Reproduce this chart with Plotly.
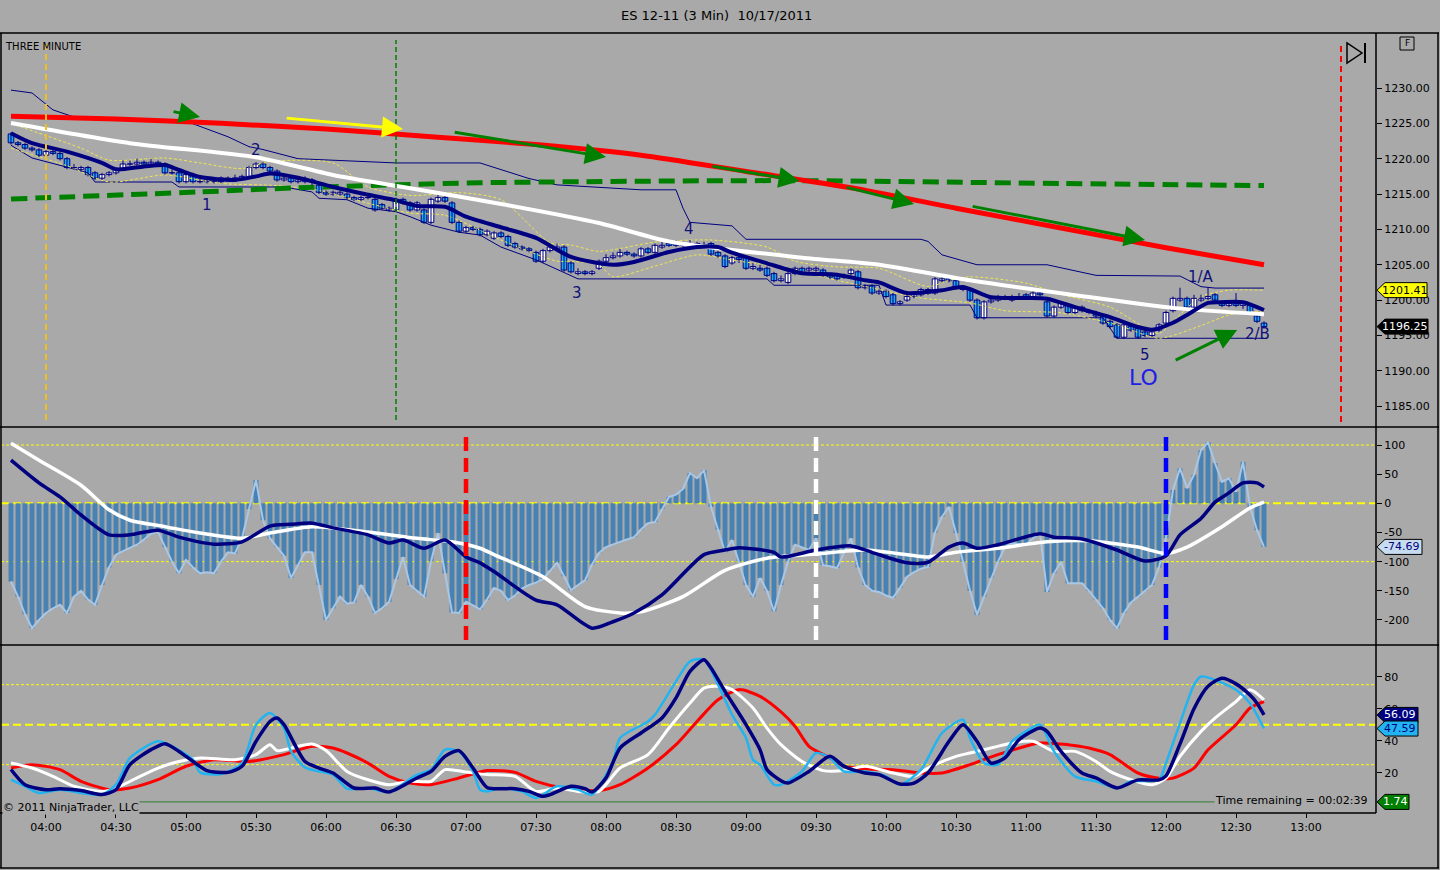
import pandas as pd
import plotly.graph_objects as go
from plotly.subplots import make_subplots

TITLE = "ES 12-11 (3 Min)\u00a0\u00a010/17/2011"
BG = "#A9A9A9"
NAVY = "#000080"
CYAN = "#1EA8F0"
FONT = "DejaVu Sans"

# 3 minute bars, 03:45 .. 12:42
bar_start = "2011-10-17 03:45"
n_bars = 180

opens = [1223.50, 1222.25, 1222.00, 1221.50, 1221.25, 1220.50, 1221.00, 1220.75, 1220.00, 1218.75,
         1218.50, 1218.75, 1218.00, 1217.25, 1217.75, 1218.00, 1218.50, 1219.25, 1219.25, 1219.50,
         1219.25, 1219.50, 1219.25, 1218.00, 1218.00, 1216.75, 1217.75, 1216.75, 1216.75, 1217.00,
         1217.25, 1217.00, 1217.25, 1217.25, 1217.50, 1218.75, 1219.25, 1218.75, 1218.25, 1217.00,
         1217.25, 1216.75, 1216.75, 1217.00, 1216.25, 1215.25, 1215.00, 1215.00, 1215.00, 1214.50,
         1214.25, 1214.50, 1214.25, 1213.50, 1212.75, 1212.75, 1214.25, 1213.75, 1212.75, 1212.75,
         1211.00, 1214.00, 1214.50, 1213.75, 1211.00, 1209.75, 1210.25, 1210.00, 1209.25, 1208.75,
         1209.50, 1209.00, 1208.00, 1207.50, 1207.25, 1206.75, 1205.50, 1207.00, 1207.25, 1207.50,
         1205.25, 1203.75, 1204.00, 1203.75, 1204.50, 1205.50, 1206.00, 1206.25, 1206.75, 1206.50,
         1206.25, 1207.25, 1206.75, 1207.50, 1208.00, 1208.25, 1208.00, 1207.75, 1208.00, 1207.75,
         1208.00, 1206.75, 1206.25, 1205.25, 1206.00, 1206.00, 1204.50, 1204.50, 1204.50, 1203.75,
         1202.75, 1202.50, 1203.75, 1204.50, 1204.25, 1204.25, 1204.25, 1203.50, 1203.50, 1203.25,
         1203.75, 1204.00, 1201.75, 1202.00, 1201.00, 1201.25, 1200.75, 1199.50, 1200.00, 1200.50,
         1200.75, 1201.50, 1201.00, 1202.75, 1203.00, 1202.75, 1201.75, 1201.50, 1200.00, 1197.50,
         1199.75, 1200.00, 1200.25, 1200.00, 1200.50, 1200.75, 1200.50, 1201.00, 1199.75, 1197.75,
         1199.00, 1199.25, 1198.25, 1199.00, 1198.50, 1198.00, 1197.75, 1197.00, 1196.50, 1194.75,
         1196.25, 1196.00, 1195.50, 1195.00, 1195.75, 1196.75, 1198.50, 1200.00, 1200.25, 1199.00,
         1200.00, 1200.25, 1200.75, 1199.75, 1199.25, 1199.50, 1199.25, 1199.25, 1197.75, 1196.75]

highs = [1223.75, 1222.50, 1222.25, 1221.75, 1221.50, 1221.25, 1221.25, 1221.00, 1220.25, 1219.25,
         1219.00, 1219.00, 1218.25, 1218.00, 1218.25, 1218.75, 1219.75, 1219.75, 1220.00, 1219.75,
         1220.00, 1219.75, 1219.50, 1218.50, 1218.25, 1218.00, 1218.00, 1217.25, 1217.50, 1217.25,
         1217.50, 1217.50, 1217.75, 1217.75, 1219.00, 1219.50, 1219.50, 1219.00, 1218.50, 1217.75,
         1217.50, 1217.25, 1217.50, 1217.25, 1216.50, 1215.50, 1215.50, 1215.50, 1215.25, 1214.75,
         1214.75, 1214.75, 1214.50, 1213.75, 1213.25, 1214.50, 1214.50, 1214.00, 1214.00, 1213.00,
         1214.50, 1215.00, 1214.75, 1214.00, 1211.25, 1210.50, 1210.50, 1210.25, 1210.00, 1209.75,
         1209.75, 1209.25, 1208.25, 1207.75, 1207.50, 1207.00, 1207.25, 1207.75, 1208.00, 1207.75,
         1205.50, 1204.50, 1204.25, 1204.25, 1205.75, 1206.50, 1206.75, 1207.25, 1207.00, 1206.75,
         1207.50, 1207.50, 1208.00, 1208.25, 1208.25, 1208.50, 1208.25, 1208.50, 1208.25, 1208.25,
         1208.25, 1207.00, 1206.50, 1206.25, 1206.25, 1206.25, 1205.25, 1205.00, 1204.75, 1204.00,
         1203.50, 1204.00, 1204.75, 1204.75, 1204.75, 1204.75, 1204.50, 1203.75, 1203.75, 1203.75,
         1204.50, 1204.25, 1202.25, 1202.25, 1201.50, 1201.50, 1201.00, 1200.00, 1200.75, 1201.00,
         1201.75, 1201.75, 1203.25, 1203.25, 1203.25, 1203.00, 1202.00, 1201.75, 1200.25, 1200.00,
         1200.50, 1200.75, 1200.75, 1200.75, 1201.00, 1201.00, 1201.25, 1201.25, 1200.00, 1199.25,
         1199.75, 1199.50, 1199.25, 1199.25, 1198.75, 1198.50, 1198.00, 1197.25, 1196.75, 1196.75,
         1196.50, 1196.25, 1195.75, 1195.75, 1196.75, 1198.50, 1200.50, 1201.75, 1200.50, 1200.75,
         1200.75, 1201.75, 1201.00, 1200.00, 1199.75, 1201.00, 1199.75, 1199.50, 1198.00, 1197.00]

lows = [1222.00, 1221.75, 1221.25, 1221.00, 1220.25, 1220.25, 1220.50, 1219.75, 1218.50, 1218.50,
        1218.25, 1217.50, 1217.00, 1217.00, 1217.50, 1217.75, 1218.25, 1219.00, 1219.00, 1219.00,
        1219.00, 1219.00, 1217.75, 1217.75, 1216.50, 1216.50, 1216.50, 1216.50, 1216.50, 1216.50,
        1216.50, 1216.75, 1217.00, 1217.00, 1217.25, 1218.50, 1218.50, 1218.00, 1216.75, 1216.75,
        1216.50, 1216.50, 1216.50, 1216.25, 1215.00, 1214.75, 1214.75, 1214.75, 1214.25, 1214.00,
        1214.00, 1214.25, 1212.50, 1212.75, 1212.50, 1212.50, 1213.50, 1212.50, 1212.50, 1210.75,
        1210.75, 1213.75, 1213.75, 1210.75, 1209.50, 1209.50, 1209.75, 1209.00, 1209.00, 1208.50,
        1208.75, 1207.50, 1207.25, 1207.00, 1206.75, 1205.25, 1205.25, 1206.75, 1207.00, 1204.00,
        1203.75, 1203.50, 1203.50, 1203.50, 1204.25, 1205.25, 1205.75, 1206.00, 1206.25, 1206.00,
        1206.00, 1206.50, 1206.50, 1207.25, 1207.50, 1207.50, 1207.50, 1207.50, 1207.50, 1207.50,
        1206.25, 1206.00, 1204.50, 1205.00, 1205.25, 1204.25, 1204.25, 1204.00, 1203.25, 1202.50,
        1202.50, 1202.25, 1203.50, 1203.75, 1204.00, 1204.00, 1203.25, 1203.00, 1202.75, 1203.00,
        1203.50, 1201.50, 1201.50, 1200.75, 1200.75, 1200.25, 1199.25, 1199.25, 1199.75, 1200.25,
        1200.50, 1200.75, 1200.75, 1202.50, 1202.50, 1201.50, 1201.25, 1199.75, 1197.25, 1197.25,
        1199.50, 1199.75, 1200.00, 1199.75, 1200.25, 1200.25, 1200.25, 1200.50, 1197.50, 1197.50,
        1198.75, 1198.00, 1198.00, 1198.25, 1198.00, 1197.50, 1196.50, 1196.00, 1194.50, 1194.50,
        1195.50, 1194.50, 1194.75, 1194.75, 1195.50, 1196.50, 1198.25, 1199.75, 1198.75, 1198.75,
        1199.75, 1200.00, 1199.75, 1199.00, 1199.00, 1199.00, 1198.75, 1198.00, 1196.75, 1196.00]

closes = [1222.25, 1222.00, 1221.50, 1221.25, 1220.50, 1221.00, 1220.75, 1220.00, 1218.75, 1218.75,
          1218.75, 1217.75, 1217.25, 1217.75, 1218.00, 1218.50, 1219.25, 1219.25, 1219.50, 1219.25,
          1219.50, 1219.25, 1218.00, 1218.00, 1216.75, 1217.75, 1216.75, 1216.75, 1217.00, 1216.75,
          1216.75, 1217.25, 1217.25, 1217.50, 1218.75, 1219.25, 1218.75, 1218.25, 1217.00, 1217.25,
          1216.75, 1217.00, 1217.00, 1216.75, 1215.25, 1215.00, 1215.25, 1215.25, 1214.50, 1214.25,
          1214.50, 1214.50, 1212.75, 1213.00, 1213.00, 1214.25, 1213.75, 1212.75, 1213.75, 1211.00,
          1214.25, 1214.50, 1214.00, 1211.00, 1209.75, 1210.25, 1210.00, 1209.25, 1209.75, 1209.50,
          1209.00, 1207.75, 1207.50, 1207.25, 1207.00, 1205.50, 1207.00, 1207.50, 1207.50, 1204.25,
          1204.00, 1204.00, 1203.75, 1204.00, 1205.50, 1206.00, 1206.25, 1206.75, 1206.50, 1206.25,
          1207.25, 1206.75, 1207.75, 1207.75, 1207.75, 1207.75, 1207.75, 1208.00, 1207.75, 1207.75,
          1206.50, 1206.25, 1204.75, 1206.00, 1205.75, 1204.50, 1204.75, 1204.25, 1203.50, 1202.75,
          1203.00, 1203.75, 1204.50, 1204.00, 1204.50, 1204.50, 1203.50, 1203.25, 1203.00, 1203.50,
          1204.25, 1201.75, 1202.00, 1201.00, 1201.25, 1200.50, 1199.50, 1199.75, 1200.50, 1200.75,
          1201.50, 1201.00, 1203.00, 1203.00, 1202.75, 1201.75, 1201.50, 1200.00, 1197.50, 1199.75,
          1200.00, 1200.25, 1200.25, 1200.50, 1200.50, 1200.50, 1201.00, 1200.75, 1197.75, 1199.00,
          1199.50, 1198.25, 1199.00, 1198.50, 1198.25, 1197.75, 1196.75, 1196.25, 1194.75, 1196.50,
          1195.75, 1194.75, 1195.00, 1195.50, 1196.50, 1198.25, 1200.25, 1200.25, 1199.00, 1200.25,
          1200.25, 1200.50, 1200.00, 1199.25, 1199.50, 1199.25, 1199.50, 1198.25, 1197.00, 1196.25]

# price panel indicators: (bar index, value)
red_ma_idx = [0, 15, 30, 45, 60, 75, 90, 105, 120, 135, 150, 165, 179]
red_ma_val = [1226.0, 1225.6, 1225.0, 1224.2, 1223.1, 1222.0, 1220.5, 1218.2, 1215.9, 1213.0, 1210.2, 1207.4, 1205.0]

white_ma_idx = [0, 17, 35, 46, 56, 70, 84, 94, 113, 124, 137, 152, 166, 179]
white_ma_val = [1225.05, 1222.2, 1220.2, 1217.7, 1216.0, 1213.6, 1210.9, 1208.3, 1206.0, 1205.0, 1202.8, 1200.7, 1198.9, 1198.0]

green_ma_idx = [0, 27, 41, 55, 67, 110, 150, 179]
green_ma_val = [1214.3, 1215.3, 1215.9, 1216.3, 1216.6, 1216.9, 1216.5, 1216.2]

fast_ma_idx = [0, 3, 8, 13, 15, 19, 22, 24, 27, 32, 35, 37, 41, 46, 51, 55, 58, 62, 65, 70,
               75, 80, 86, 89, 94, 98, 101, 103, 108, 113, 118, 122, 124, 128, 133, 136, 140, 145, 148, 152,
               157, 161, 163, 166, 168, 171, 173, 176, 179]
fast_ma_val = [1223.6, 1222.2, 1221.0, 1219.4, 1218.5, 1218.9, 1219.1, 1218.4, 1217.4, 1217.0,
               1217.5, 1217.9, 1217.3, 1216.0, 1214.9, 1214.1, 1213.3, 1213.2, 1211.8, 1210.3,
               1208.8, 1206.1, 1205.0, 1205.4, 1206.8, 1207.5, 1207.5, 1206.7, 1205.2, 1203.8,
               1203.6, 1202.8, 1202.5, 1201.0, 1201.4, 1201.85, 1200.4, 1200.3, 1200.2, 1199.0,
               1197.6, 1196.2, 1195.8, 1196.8, 1197.9, 1199.6, 1199.7, 1199.7, 1198.6]

chan_hi_idx = [0, 3, 6, 9, 14, 25, 31, 34, 36, 41, 55, 67, 74, 78, 90, 95, 96, 97, 103, 105,
               130, 131, 133, 138, 148, 150, 155, 167, 170, 172, 179]
chan_hi_val = [1229.7, 1229.3, 1226.9, 1225.9, 1225.5, 1225.3, 1223.1, 1221.7, 1221.3, 1220.0,
               1219.4, 1219.4, 1217.2, 1216.3, 1215.6, 1215.6, 1213.0, 1211.0, 1210.5, 1208.6,
               1208.6, 1208.3, 1206.4, 1205.0, 1205.0, 1204.6, 1203.5, 1203.4, 1201.9, 1201.7, 1201.7]

chan_lo_idx = [0, 3, 8, 11, 12, 23, 24, 39, 43, 44, 48, 51, 55, 57, 60, 64, 67, 70, 75, 78,
               81, 108, 109, 124, 125, 137, 138, 156, 158, 179]
chan_lo_val = [1221.9, 1220.1, 1218.8, 1218.0, 1216.7, 1216.7, 1216.0, 1216.0, 1215.3, 1214.4,
               1214.2, 1213.0, 1212.5, 1211.8, 1210.6, 1209.6, 1209.2, 1207.5, 1205.7, 1204.3,
               1203.0, 1203.0, 1202.1, 1202.1, 1199.3, 1199.3, 1197.5, 1197.5, 1194.6, 1194.6]

band_up_idx = [0, 2, 10, 14, 22, 27, 33, 37, 46, 51, 57, 64, 70, 77, 80, 84, 92, 100, 108, 112,
               118, 124, 131, 134, 137, 145, 150, 157, 164, 166, 170, 174, 179]
band_up_val = [1225.0, 1224.3, 1221.5, 1219.8, 1220.1, 1219.4, 1218.6, 1219.6, 1219.4, 1216.0,
               1214.8, 1215.2, 1214.2, 1208.1, 1207.8, 1206.9, 1208.2, 1208.5, 1207.5, 1205.5,
               1204.7, 1204.5, 1201.9, 1202.8, 1203.3, 1202.4, 1200.8, 1199.0, 1195.3, 1197.0,
               1200.5, 1201.4, 1201.4]

band_lo_idx = [0, 8, 14, 22, 30, 38, 44, 51, 57, 62, 70, 78, 80, 84, 86, 92, 98, 104, 111, 118,
               124, 130, 137, 142, 150, 158, 164, 170, 174, 179]
band_lo_val = [1221.5, 1219.0, 1216.7, 1217.7, 1216.5, 1216.2, 1215.5, 1213.7, 1212.3, 1212.0,
               1208.5, 1205.5, 1205.5, 1205.0, 1203.3, 1204.8, 1206.4, 1205.5, 1204.5, 1202.8,
               1201.5, 1200.3, 1199.6, 1198.5, 1198.2, 1196.5, 1194.6, 1196.4, 1197.9, 1198.5]

# CCI panel
cci = [-134, -160, -190, -214, -200, -188, -180, -174, -188, -160,
       -150, -165, -174, -140, -110, -88, -82, -76, -71, -62,
       -52, -49, -75, -100, -120, -97, -110, -120, -118, -120,
       -100, -84, -86, -60, -10, 40, -29, -60, -75, -90,
       -128, -105, -84, -84, -140, -200, -180, -160, -172, -170,
       -140, -160, -188, -180, -169, -130, -92, -140, -150, -160,
       -100, -51, -120, -187, -188, -169, -175, -182, -165, -145,
       -150, -166, -158, -146, -140, -136, -130, -115, -102, -125,
       -149, -140, -132, -105, -85, -75, -70, -66, -62, -58,
       -45, -34, -32, -10, 11, 15, 25, 52, 43, 57,
       -6, -45, -84, -63, -100, -140, -160, -128, -150, -185,
       -140, -100, -71, -76, -80, -60, -106, -108, -111, -85,
       -60, -110, -140, -150, -152, -158, -162, -145, -126, -118,
       -112, -109, -50, -23, -6, -51, -100, -150, -191, -160,
       -128, -100, -75, -68, -70, -71, -60, -51, -152, -120,
       -100, -137, -137, -137, -150, -165, -180, -200, -214, -188,
       -170, -160, -150, -140, -110, -60, 23, 60, 26, 49,
       91, 105, 69, 37, 43, 20, 71, -6, -46, -74.69]

cci_fast_idx = [0, 4, 7, 10, 14, 17, 21, 24, 29, 33, 37, 40, 43, 46, 51, 54, 56, 59, 62, 65,
                67, 69, 75, 78, 83, 86, 89, 93, 99, 102, 104, 109, 110, 115, 120, 123, 128, 131, 134, 136,
                138, 141, 147, 149, 153, 158, 162, 165, 167, 170, 172, 174, 176, 178, 179]
cci_fast_val = [74, 35, 11, -20, -54, -54, -46, -58, -70, -66, -39, -36, -34, -42, -54, -68, -63, -77, -63, -92,
                -102, -117, -166, -174, -214, -203, -188, -157, -88, -80, -76, -84, -92, -80, -73, -84, -102, -101, -75, -68,
                -77, -71, -52, -58, -61, -80, -99, -90, -54, -26, 2, 18, 35, 35, 28]

cci_slow_idx = [0, 4, 10, 14, 17, 22, 27, 33, 37, 43, 51, 58, 63, 67, 69, 76, 82, 87, 90, 96,
                102, 108, 115, 122, 128, 131, 135, 141, 148, 154, 161, 165, 168, 173, 177, 179]
cci_slow_val = [103, 74, 31, -11, -29, -40, -51, -60, -51, -40, -49, -60, -66, -77, -88, -126, -177, -188, -186, -160,
                -115, -94, -87, -80, -88, -92, -84, -77, -66, -64, -75, -86, -75, -40, -8, 2]

# stochastic panel
stoch_k_idx = [0, 2, 4, 7, 10, 13, 15, 17, 21, 23, 26, 27, 30, 33, 35, 37, 39, 40, 42, 44,
               46, 48, 51, 54, 58, 60, 62, 64, 66, 67, 68, 70, 73, 75, 78, 81, 83, 86, 87, 91,
               92, 95, 97, 99, 101, 103, 105, 106, 107, 109, 110, 113, 115, 117, 119, 122, 125, 127, 130, 133,
               136, 137, 139, 141, 143, 145, 147, 149, 152, 155, 158, 160, 164, 165, 167, 169, 170, 172, 175, 177, 179]
stoch_k_val = [15.6, 11.5, 7.3, 9.4, 7.3, 6.3, 12.5, 29.2, 39.6, 36.5, 28.1, 20.2, 19.2, 26.0, 50.0, 57.3, 48.0, 33.3, 23.3, 20.8,
               18.8, 10.0, 10.4, 8.0, 18.8, 21.9, 34.4, 33.3, 20.8, 9.4, 8.3, 10.4, 8.3, 4.2, 11.5, 9.4, 6.3, 27.0, 41.7, 52.0,
               56.3, 77.1, 89.6, 90.6, 75.0, 56.3, 41.7, 28.1, 25.0, 12.5, 12.5, 20.8, 32.3, 29.2, 20.8, 20.8, 17.7, 12.5, 21.9, 44.8,
               53.1, 41.7, 26.0, 25.0, 39.6, 45.8, 50.0, 33.3, 17.7, 14.6, 10.4, 14.6, 15.6, 26.0, 51.0, 74.9, 80.1, 78.0, 71.8, 63.4, 47.59]

stoch_d_idx = [0, 2, 5, 7, 10, 13, 15, 17, 20, 22, 24, 26, 28, 31, 33, 35, 37, 38, 39, 42,
               44, 46, 49, 52, 54, 58, 60, 62, 64, 66, 68, 70, 72, 74, 76, 77, 80, 82, 83, 85,
               87, 90, 93, 95, 97, 99, 100, 102, 105, 107, 108, 110, 111, 114, 117, 119, 122, 124, 127, 129,
               131, 134, 136, 138, 140, 142, 144, 147, 148, 150, 153, 155, 158, 161, 164, 165, 167, 169, 171, 173, 175, 177, 178, 179]
stoch_d_val = [22.0, 12.5, 9.4, 10.0, 8.8, 6.3, 9.4, 25.0, 34.4, 38.1, 33.3, 27.0, 21.3, 20.2, 24.0, 39.6, 52.0, 54.2, 50.0, 27.0,
               22.9, 19.8, 10.4, 10.4, 8.0, 16.7, 20.8, 30.2, 33.8, 22.9, 10.8, 10.0, 10.0, 8.3, 5.2, 6.3, 11.5, 10.0, 7.9, 16.7,
               35.4, 44.8, 54.2, 66.7, 83.3, 90.6, 85.4, 70.8, 50.0, 34.4, 21.9, 15.0, 13.5, 20.8, 30.2, 24.0, 19.8, 18.8, 12.9, 13.5,
               19.8, 39.6, 50.0, 39.6, 26.0, 29.2, 40.6, 47.9, 45.8, 33.3, 19.8, 16.7, 10.5, 15.5, 15.5, 18.0, 38.0, 60.0, 74.0, 79.0,
               75.5, 68.5, 63.4, 56.09]

stoch_w_idx = [0, 3, 6, 9, 13, 15, 18, 21, 24, 27, 32, 35, 37, 38, 41, 43, 45, 48, 51, 54,
               57, 60, 62, 65, 68, 72, 75, 78, 81, 84, 87, 91, 94, 97, 99, 101, 103, 106, 108, 110,
               113, 116, 119, 122, 126, 129, 131, 135, 137, 140, 143, 146, 149, 152, 155, 157, 160, 163, 165, 167,
               170, 172, 175, 177, 179]
stoch_w_val = [26.0, 22.9, 17.7, 11.5, 8.3, 10.4, 16.7, 22.9, 27.0, 29.2, 28.1, 31.3, 37.5, 33.8, 36.5, 37.9, 33.8, 20.8, 15.6, 12.5,
               14.6, 14.6, 21.9, 20.4, 18.8, 17.7, 8.3, 10.4, 8.3, 8.3, 22.9, 31.3, 47.9, 63.5, 72.9, 74.0, 71.9, 60.4, 47.9, 37.5,
               27.0, 21.3, 21.3, 24.0, 19.8, 17.7, 22.9, 30.2, 32.3, 35.4, 38.5, 39.6, 33.3, 33.3, 27.0, 20.8, 15.6, 12.4, 16.6, 30.2,
               45.8, 54.1, 64.5, 71.8, 65.5]

stoch_r_idx = [0, 3, 7, 10, 14, 17, 21, 25, 29, 34, 39, 43, 46, 48, 51, 54, 57, 60, 64, 68,
               72, 75, 79, 84, 87, 91, 95, 98, 101, 104, 107, 110, 112, 114, 117, 119, 122, 126, 130, 133,
               137, 141, 147, 151, 154, 157, 161, 164, 166, 169, 171, 175, 177, 179]
stoch_r_val = [22.9, 25.0, 21.9, 14.6, 9.4, 10.4, 15.6, 24.0, 28.1, 27.0, 31.3, 36.5, 35.4, 32.3, 26.0, 17.7, 13.5, 12.5, 16.7, 21.3,
               20.2, 14.6, 10.4, 8.8, 12.5, 22.9, 37.5, 52.0, 65.6, 71.9, 67.7, 58.0, 49.0, 36.5, 29.2, 24.0, 22.3, 21.9, 19.8, 19.8,
               25.0, 31.3, 38.5, 37.5, 35.4, 31.3, 19.8, 16.6, 16.6, 22.9, 34.3, 50.0, 60.4, 64.5]

stoch_base_level = 1.74

price_ticks = [1185, 1190, 1195, 1200, 1205, 1210, 1215, 1220, 1225, 1230]
cci_ticks = [-200, -150, -100, -50, 0, 50, 100]
stoch_ticks = [20, 40, 60, 80]

bar_times = pd.date_range(bar_start, periods=n_bars, freq="3min")
BAR_MS = 3 * 60 * 1000


def at(idx):
    return [bar_times[i] for i in idx]


# pixel helpers for the frame decorations (plot area is x 1..1376, y 33..813)
def px(x):
    return (x - 1) / 1375.0


def py(y):
    return (813 - y) / 780.0


fig = make_subplots(rows=3, cols=1, shared_xaxes=True, vertical_spacing=0,
                    row_heights=[394, 218, 168])


def add_line(idx, vals, color, width, row, dash=None, shape="spline"):
    fig.add_trace(go.Scatter(x=at(idx), y=vals, mode="lines", hoverinfo="skip",
                             line=dict(color=color, width=width, dash=dash, shape=shape,
                                       smoothing=0.7 if shape == "spline" else None)),
                  row=row, col=1)


# ---- price panel
add_line(chan_hi_idx, chan_hi_val, NAVY, 1, 1, shape="linear")
add_line(chan_lo_idx, chan_lo_val, NAVY, 1, 1, shape="linear")
add_line(band_up_idx, band_up_val, "#EDE650", 1, 1, dash="3px,2px")
add_line(band_lo_idx, band_lo_val, "#EDE650", 1, 1, dash="3px,2px")
add_line(green_ma_idx, green_ma_val, "#008000", 5, 1, dash="16px,8px")
add_line(red_ma_idx, red_ma_val, "#FF0000", 5, 1)

# candles: wicks, then bodies
wick_x, wick_y = [], []
for t, h, l in zip(bar_times, highs, lows):
    wick_x += [t, t, None]
    wick_y += [l, h, None]
fig.add_trace(go.Scatter(x=wick_x, y=wick_y, mode="lines", hoverinfo="skip",
                         line=dict(color=NAVY, width=1)), row=1, col=1)

up = [i for i in range(n_bars) if closes[i] >= opens[i]]
down = [i for i in range(n_bars) if closes[i] < opens[i]]
fig.add_trace(go.Bar(x=at(up), y=[closes[i] - opens[i] for i in up], base=[opens[i] for i in up],
                     width=BAR_MS * 0.8, hoverinfo="skip",
                     marker=dict(color="white", line=dict(color=NAVY, width=1))), row=1, col=1)
fig.add_trace(go.Bar(x=at(down), y=[opens[i] - closes[i] for i in down], base=[closes[i] for i in down],
                     width=BAR_MS * 0.8, hoverinfo="skip",
                     marker=dict(color=CYAN, line=dict(color=NAVY, width=1))), row=1, col=1)

add_line(white_ma_idx, white_ma_val, "white", 4, 1)
add_line(fast_ma_idx, fast_ma_val, NAVY, 4, 1)

# ---- CCI panel
fig.add_trace(go.Bar(x=bar_times, y=cci, width=BAR_MS * 0.7,
                     marker=dict(color="#4682B4", line=dict(width=0)), hoverinfo="skip"),
              row=2, col=1)
fig.add_trace(go.Scatter(x=bar_times, y=cci, mode="lines", hoverinfo="skip",
                         line=dict(color="#A8C6E6", width=2)), row=2, col=1)
add_line(cci_slow_idx, cci_slow_val, "white", 3.5, 2)
add_line(cci_fast_idx, cci_fast_val, NAVY, 3.5, 2)

# ---- stochastic panel
add_line(stoch_r_idx, stoch_r_val, "#FF0000", 3, 3)
add_line(stoch_w_idx, stoch_w_val, "white", 3, 3)
add_line(stoch_k_idx, stoch_k_val, "#22B4F0", 2.5, 3)
add_line(stoch_d_idx, stoch_d_val, NAVY, 3.5, 3)

shapes = []


def vline(t, xref, yref, color, width, dash, y0, y1):
    shapes.append(dict(type="line", xref=xref, yref=yref, x0=t, x1=t, y0=y0, y1=y1,
                       line=dict(color=color, width=width, dash=dash)))


def hline(v, yref, color, width, dash):
    shapes.append(dict(type="line", xref="paper", yref=yref, x0=0, x1=1, y0=v, y1=v,
                       line=dict(color=color, width=width, dash=dash), layer="below"))


vline("2011-10-17 04:00", "x", "y domain", "#F0C020", 2, "6px,4px", 0.018, 0.982)
vline("2011-10-17 06:30", "x", "y domain", "#008000", 1.5, "5px,3px", 0.018, 0.982)
vline("2011-10-17 13:15", "x", "y domain", "#FF0000", 2, "6px,4px", 0.013, 0.977)
vline("2011-10-17 07:00", "x2", "y2 domain", "#FF0000", 4.5, "14px,7px", 0.023, 0.977)
vline("2011-10-17 09:30", "x2", "y2 domain", "white", 4.5, "14px,7px", 0.023, 0.977)
vline("2011-10-17 12:00", "x2", "y2 domain", "#0000FF", 4.5, "14px,7px", 0.023, 0.977)

hline(100, "y2", "#FFFF00", 1, "3px,2px")
hline(-100, "y2", "#FFFF00", 1, "3px,2px")
hline(0, "y2", "#FFFF00", 2, "8px,4px")
hline(75, "y3", "#FFFF00", 1, "3px,2px")
hline(25, "y3", "#FFFF00", 1, "3px,2px")
hline(50, "y3", "#FFFF00", 2, "8px,4px")

shapes.append(dict(type="line", xref="x3", yref="y3", x0=bar_times[0], x1=bar_times[-1],
                   y0=stoch_base_level, y1=stoch_base_level, line=dict(color="#2E7D2E", width=1)))

# frame lines
frame = dict(color="black", width=1.5)
for y in (33, 427, 645):
    shapes.append(dict(type="line", xref="paper", yref="paper", x0=px(0), x1=px(1439),
                       y0=py(y), y1=py(y), line=frame))
shapes.append(dict(type="line", xref="paper", yref="paper", x0=px(0), x1=px(1376),
                   y0=py(813), y1=py(813), line=frame))
shapes.append(dict(type="line", xref="paper", yref="paper", x0=px(0), x1=px(1439),
                   y0=py(868), y1=py(868), line=frame))
shapes.append(dict(type="line", xref="paper", yref="paper", x0=px(1376), x1=px(1376),
                   y0=py(33), y1=py(813), line=frame))
shapes.append(dict(type="line", xref="paper", yref="paper", x0=px(1438), x1=px(1438),
                   y0=py(33), y1=py(868), line=frame))
shapes.append(dict(type="line", xref="paper", yref="paper", x0=px(1), x1=px(1),
                   y0=py(33), y1=py(868), line=frame))

# "F" box and the jump-to-end icon
shapes.append(dict(type="rect", xref="paper", yref="paper", x0=px(1400), x1=px(1414),
                   y0=py(50), y1=py(37), line=dict(color="black", width=1)))
shapes.append(dict(type="path", xref="paper", yref="paper",
                   path=f"M {px(1347)},{py(43)} L {px(1347)},{py(63)} L {px(1362)},{py(53)} Z",
                   line=dict(color="black", width=1.5)))
shapes.append(dict(type="line", xref="paper", yref="paper", x0=px(1365), x1=px(1365),
                   y0=py(43), y1=py(63), line=dict(color="black", width=2)))

annotations = []


def tag(yref, value, half, fill, text, txt_color, right):
    tip, notch, end = px(1377), px(1385), px(right)
    shapes.append(dict(type="path", xref="paper", yref=yref, layer="above",
                       path=(f"M {tip},{value} L {notch},{value + half} L {end},{value + half} "
                             f"L {end},{value - half} L {notch},{value - half} Z"),
                       fillcolor=fill, line=dict(color="black", width=1)))
    annotations.append(dict(xref="paper", yref=yref, x=(px(1382) + end) / 2, y=value,
                            xanchor="center", yanchor="middle",
                            text=text, showarrow=False, font=dict(color=txt_color, size=11)))


tag("y", 1201.41, 1.06, "#FFFF00", "1201.41", "black", 1427)
tag("y", closes[-1], 1.06, "black", f"{closes[-1]:.2f}", "white", 1428)
tag("y2", cci[-1], 12.9, "#C8DCF0", f"{cci[-1]:.2f}", NAVY, 1422)
tag("y3", stoch_d_val[-1], 4.7, NAVY, f"{stoch_d_val[-1]:.2f}", "white", 1418)
tag("y3", stoch_k_val[-1], 4.7, "#22B4F0", f"{stoch_k_val[-1]:.2f}", NAVY, 1418)
tag("y3", stoch_base_level, 4.7, "#008000", f"{stoch_base_level:.2f}", "white", 1409)


def note(x, y, text, size=11, color="black", xanchor="center", bg=None):
    annotations.append(dict(xref="paper", yref="paper", x=px(x), y=py(y), text=text,
                            showarrow=False, xanchor=xanchor, yanchor="middle",
                            font=dict(size=size, color=color), bgcolor=bg, borderpad=0))


note(716, 15, TITLE, size=13)
note(4, 46, "THREE MINUTE", size=10, xanchor="left")
note(1407, 43, "F", size=9)
note(2, 807, "© 2011 NinjaTrader, LLC", size=11, xanchor="left", bg=BG)
note(1214, 800, "Time remaining = 00:02:39", size=11, xanchor="left", bg=BG)


def wave(t, p, text, size=15, color="#10107A"):
    annotations.append(dict(xref="x", yref="y", x=f"2011-10-17 {t}", y=p, text=text,
                            xanchor="center", yanchor="middle",
                            showarrow=False, font=dict(size=size, color=color)))


wave("05:09", 1213.45, "1")
wave("05:30", 1221.2, "2")
wave("07:47:30", 1201.0, "3")
wave("08:35:30", 1210.06, "4")
wave("11:51", 1192.2, "5")
wave("11:50:30", 1189.0, "LO", size=22, color="#1E1EE6")
wave("12:15", 1203.27, "1/A")
wave("12:39", 1195.2, "2/B")


def arrow(t0, p0, t1, p1, color):
    annotations.append(dict(xref="x", yref="y", axref="x", ayref="y",
                            x=f"2011-10-17 {t1}", y=p1, ax=f"2011-10-17 {t0}", ay=p0,
                            showarrow=True, arrowhead=2, arrowsize=1.4, arrowwidth=3,
                            arrowcolor=color, text=""))


arrow("04:54", 1226.7, "05:06", 1225.9, "#008000")
arrow("05:42:30", 1225.76, "06:33", 1224.2, "#FFFF00")
arrow("06:54:30", 1223.78, "08:00", 1220.24, "#008000")
arrow("08:45", 1218.97, "09:23", 1216.85, "#008000")
arrow("09:42:30", 1216.0, "10:12", 1213.6, "#008000")
arrow("10:36:30", 1213.3, "11:51", 1208.5, "#008000")
arrow("12:03:30", 1191.4, "12:30:30", 1195.77, "#008000")

fig.update_layout(
    width=1440, height=870,
    margin=dict(l=1, r=64, t=33, b=57),
    paper_bgcolor=BG, plot_bgcolor=BG,
    font=dict(family=FONT, color="black", size=11),
    showlegend=False,
    barmode="overlay",
    shapes=shapes,
    annotations=annotations,
)

fig.update_xaxes(range=["2011-10-17 03:40:43", "2011-10-17 13:30:00"],
                 showgrid=False, zeroline=False, showline=False,
                 rangeslider_visible=False, fixedrange=True)
tick_times = pd.date_range("2011-10-17 04:00", "2011-10-17 13:00", freq="30min")
fig.update_xaxes(tickmode="array", tickvals=tick_times,
                 ticktext=[t.strftime("%H:%M") for t in tick_times],
                 ticks="outside", ticklen=4, tickcolor="black",
                 tickfont=dict(size=11), row=3, col=1)

yax = dict(side="right", showgrid=False, zeroline=False, showline=False, fixedrange=True,
           ticks="outside", ticklen=5, tickcolor="black", tickfont=dict(size=11))
fig.update_yaxes(range=[1182.05, 1237.78], tickvals=price_ticks,
                 ticktext=[f"{v:.2f}" for v in price_ticks], row=1, col=1, **yax)
fig.update_yaxes(range=[-242.9, 130.9], tickvals=cci_ticks,
                 ticktext=[str(v) for v in cci_ticks], row=2, col=1, **yax)
fig.update_yaxes(range=[-5.2, 99.8], tickvals=stoch_ticks,
                 ticktext=[str(v) for v in stoch_ticks], row=3, col=1, **yax)

fig.write_html("out.html", config={"displayModeBar": False},
               post_script="document.body.style.margin='0px';")
